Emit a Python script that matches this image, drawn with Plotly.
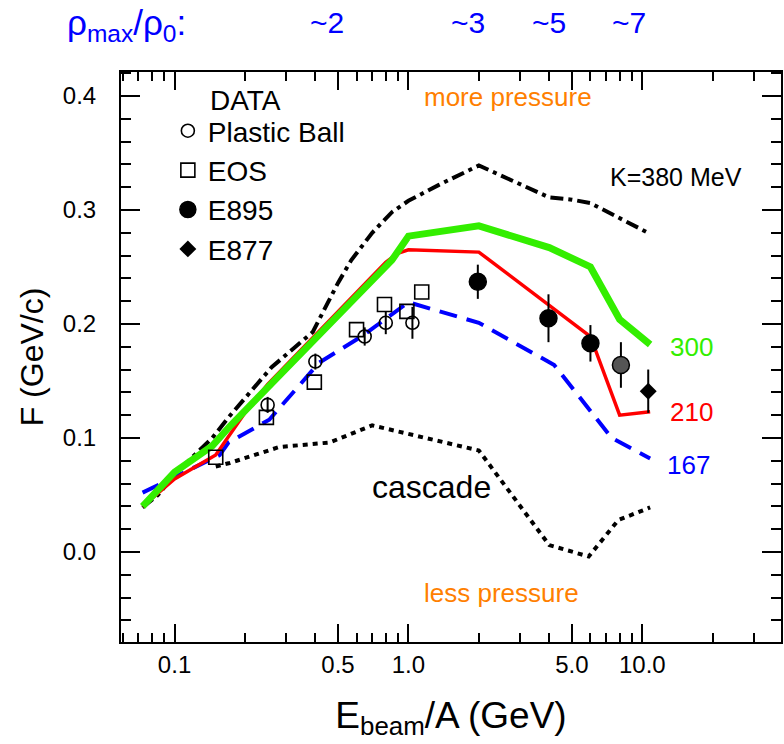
import numpy as np
import plotly.graph_objects as go

# ---------------- data ----------------
# model curves (F vs E_beam/A)
e_k380 = [0.073, 0.085, 0.1, 0.145, 0.17, 0.26, 0.39, 0.5, 0.57, 0.7, 0.85, 1.0, 1.35, 2.0, 4.0, 5.0, 6.0, 10.8]
f_k380 = [0.039, 0.050, 0.068, 0.100, 0.118, 0.162, 0.193, 0.236, 0.256, 0.280, 0.298, 0.308, 0.322, 0.339, 0.311, 0.309, 0.306, 0.279]

e_k300 = [0.073, 0.1, 0.145, 0.172, 0.85, 1.0, 2.0, 4.0, 6.0, 8.0, 10.8]
f_k300 = [0.040, 0.070, 0.093, 0.110, 0.256, 0.277, 0.286, 0.267, 0.250, 0.204, 0.182]

e_k210 = [0.073, 0.1, 0.15, 0.2, 0.25, 0.4, 0.6, 0.8, 0.9, 1.0, 2.0, 6.0, 8.0, 10.8]
f_k210 = [0.040, 0.064, 0.085, 0.122, 0.147, 0.190, 0.228, 0.254, 0.262, 0.265, 0.263, 0.189, 0.120, 0.123]

e_k167 = [0.073, 0.1, 0.156, 0.17, 0.254, 0.415, 0.63, 1.0, 1.22, 2.0, 4.2, 7.4, 10.8]
f_k167 = [0.052, 0.066, 0.085, 0.096, 0.116, 0.166, 0.189, 0.219, 0.214, 0.201, 0.164, 0.100, 0.082]

e_casc = [0.15, 0.172, 0.28, 0.46, 0.70, 2.0, 4.0, 5.9, 7.9, 10.8]
f_casc = [0.075, 0.078, 0.092, 0.096, 0.111, 0.089, 0.006, -0.004, 0.028, 0.039]

# data points
e_pb = [0.25, 0.40, 0.65, 0.80, 1.04]
f_pb = [0.129, 0.167, 0.189, 0.201, 0.201]
err_pb = [0.007, 0.007, 0.008, 0.010, 0.014]

e_eos = [0.15, 0.247, 0.396, 0.60, 0.79, 0.985, 1.14]
f_eos = [0.083, 0.118, 0.149, 0.195, 0.217, 0.211, 0.228]

e_e895 = [1.98, 3.97, 6.0, 8.1]
f_e895 = [0.237, 0.205, 0.183, 0.164]
err_e895 = [0.015, 0.021, 0.016, 0.020]

e_e877 = [10.6]
f_e877 = [0.141]
err_e877 = [0.019]

# top density labels
rho_pos = [0.45, 1.8, 4.0, 8.8]
rho_txt = ["~2", "~3", "~5", "~7"]

x_major = [0.1, 0.5, 1.0, 5.0, 10.0]
x_major_txt = ["0.1", "0.5", "1.0", "5.0", "10.0"]
x_minor = [0.06, 0.07, 0.08, 0.09, 0.2, 0.3, 0.4, 0.6, 0.7, 0.8, 0.9,
           2, 3, 4, 6, 7, 8, 9, 20, 30]

FONT = "Liberation Sans, Arial, sans-serif"
BLUE = "#0000ff"
ORANGE = "#ff7f00"
GREEN = "#33ee00"
RED = "#ff0000"

fig = go.Figure()

fig.add_trace(go.Scatter(x=e_casc, y=f_casc, mode="lines", showlegend=False,
                         line=dict(color="black", width=4, dash="5px,5px")))
fig.add_trace(go.Scatter(x=e_k380, y=f_k380, mode="lines", showlegend=False,
                         line=dict(color="black", width=4, dash="13px,5px,4px,5px")))
fig.add_trace(go.Scatter(x=e_k167, y=f_k167, mode="lines", showlegend=False,
                         line=dict(color=BLUE, width=4, dash="18px,10px")))
fig.add_trace(go.Scatter(x=e_k210, y=f_k210, mode="lines", showlegend=False,
                         line=dict(color=RED, width=3.5)))
fig.add_trace(go.Scatter(x=e_k300, y=f_k300, mode="lines", showlegend=False,
                         line=dict(color=GREEN, width=7)))

errstyle = dict(type="data", color="black", thickness=2, width=0)

fig.add_trace(go.Scatter(x=e_pb, y=f_pb, mode="markers", name="Plastic Ball",
                         legendgroup="a",
                         marker=dict(symbol="circle-open", size=13, color="black",
                                     line=dict(width=1.6)),
                         error_y=dict(array=err_pb, **errstyle)))
fig.add_trace(go.Scatter(x=e_eos, y=f_eos, mode="markers", name="EOS",
                         legendgroup="b",
                         marker=dict(symbol="square-open", size=14, color="black",
                                     line=dict(width=1.6))))
fig.add_trace(go.Scatter(x=e_e895, y=f_e895, mode="markers", name="E895",
                         legendgroup="c",
                         marker=dict(symbol="circle", size=17,
                                     color=["black", "black", "black", "#555555"],
                                     line=dict(width=1.5, color="black")),
                         error_y=dict(array=err_e895, **errstyle)))
fig.add_trace(go.Scatter(x=e_e877, y=f_e877, mode="markers", name="E877",
                         legendgroup="d",
                         marker=dict(symbol="diamond", size=13, color="black"),
                         error_y=dict(array=err_e877, **errstyle)))

# ---------------- annotations ----------------
# pixel helpers (plot area: x 121..783, y 72..642)
def px(xs):
    return (xs - 121) / 662

def py(ys):
    return (642 - ys) / 570

def lg(v):
    return float(np.log10(v))

ann = []
ann.append(dict(text="more pressure", x=lg(2.66), y=0.399, xref="x", yref="y",
                showarrow=False, font=dict(color=ORANGE, size=26)))
ann.append(dict(text="less pressure", x=lg(2.5), y=-0.036, xref="x", yref="y",
                showarrow=False, font=dict(color=ORANGE, size=26)))
ann.append(dict(text="K=380 MeV", x=lg(14.0), y=0.329, xref="x", yref="y",
                showarrow=False, font=dict(color="black", size=25)))
ann.append(dict(text="300", x=lg(16.3), y=0.180, xref="x", yref="y",
                showarrow=False, font=dict(color=GREEN, size=26)))
ann.append(dict(text="210", x=lg(16.3), y=0.123, xref="x", yref="y",
                showarrow=False, font=dict(color=RED, size=26)))
ann.append(dict(text="167", x=lg(15.8), y=0.076, xref="x", yref="y",
                showarrow=False, font=dict(color=BLUE, size=26)))
ann.append(dict(text="cascade", x=lg(1.25), y=0.057, xref="x", yref="y",
                showarrow=False, font=dict(color="black", size=32)))
ann.append(dict(text="DATA", x=px(208), y=py(100),
                xref="paper", yref="paper", xanchor="left", yanchor="middle",
                showarrow=False, font=dict(color="black", size=28)))
ann.append(dict(text="ρ<sub>max</sub>/ρ<sub>0</sub>:", x=px(65), y=py(25),
                xref="paper", yref="paper", xanchor="left", yanchor="middle",
                showarrow=False, font=dict(color=BLUE, size=35)))
for p, t in zip(rho_pos, rho_txt):
    ann.append(dict(text=t, x=lg(p), y=py(23), xref="x", yref="paper",
                    xanchor="center", yanchor="middle",
                    showarrow=False, font=dict(color=BLUE, size=30)))

fig.update_layout(
    width=784, height=744, autosize=False,
    margin=dict(l=121, r=1, t=72, b=102),
    paper_bgcolor="white", plot_bgcolor="white",
    font=dict(family=FONT, color="black"),
    annotations=ann,
    legend=dict(x=px(168), xanchor="left", y=py(106), yanchor="top",
                bgcolor="rgba(0,0,0,0)", font=dict(size=28), tracegroupgap=0,
                itemclick=False),
)

fig.update_xaxes(
    type="log", range=[-1.229, 1.593],
    tickmode="array", tickvals=x_major, ticktext=x_major_txt,
    ticks="inside", ticklen=18, tickwidth=1.5, tickcolor="black",
    minor=dict(tickmode="array", tickvals=x_minor, ticks="inside", ticklen=9,
               tickwidth=1.5, tickcolor="black", showgrid=False),
    showline=True, linecolor="black", linewidth=2, mirror="allticks",
    showgrid=False, zeroline=False,
    tickfont=dict(size=24), ticklabelstandoff=0,
    title=dict(text="E<sub>beam</sub>/A (GeV)", font=dict(size=37), standoff=25),
)
fig.update_yaxes(
    range=[-0.079, 0.421],
    tickmode="array", tickvals=[0.0, 0.1, 0.2, 0.3, 0.4],
    ticktext=["0.0", "0.1", "0.2", "0.3", "0.4"],
    ticks="inside", ticklen=19, tickwidth=1.5, tickcolor="black",
    minor=dict(dtick=0.02, tick0=0, ticks="inside", ticklen=10, tickwidth=1.5,
               tickcolor="black", showgrid=False),
    showline=True, linecolor="black", linewidth=2, mirror="allticks",
    showgrid=False, zeroline=False,
    tickfont=dict(size=24), ticklabelstandoff=18,
    title=dict(text="F (GeV/c)", font=dict(size=32), standoff=10),
)

# remove the default 8px page margin so the figure sits at the window's corner
fig.write_html("out.html", config={"displayModeBar": False},
               post_script="document.body.style.margin='0';")
